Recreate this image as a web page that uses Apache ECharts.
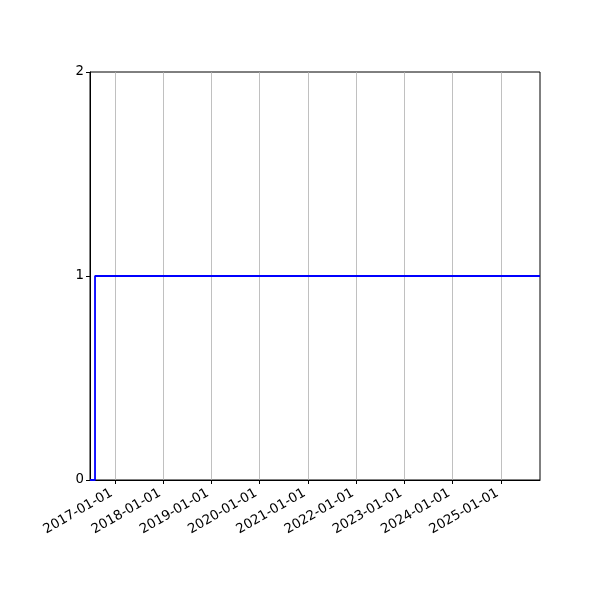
<!DOCTYPE html>
<html>
<head>
<meta charset="utf-8">
<script src="https://cdn.jsdelivr.net/npm/echarts@6/dist/echarts.min.js"></script>
<style>html,body{margin:0;padding:0;background:#fff}#c{width:600px;height:600px}</style>
</head>
<body>
<div id="c"></div>
<script>
const dates = ['2016-06-26', '2016-08-03', '2025-10-23'];
const values = [0, 1, 1];
const tickDates = ['2017-01-01','2018-01-01','2019-01-01','2020-01-01','2021-01-01','2022-01-01','2023-01-01','2024-01-01','2025-01-01'];
const yTicks = [0, 1, 2];

const ts = s => Date.parse(s + 'T00:00:00Z');
const tickTs = tickDates.map(ts);
const pad = n => String(n).padStart(2, '0');
const fmt = v => { const d = new Date(v); return d.getUTCFullYear() + '-' + pad(d.getUTCMonth()+1) + '-' + pad(d.getUTCDate()); };

const chart = echarts.init(document.getElementById('c'), null, {renderer: 'canvas'});
chart.setOption({
  animation: false,
  textStyle: {fontFamily: 'DejaVu Sans'},
  grid: {left: 90, right: 60, top: 72, bottom: 120, show: true, borderColor: '#000', borderWidth: 1, backgroundColor: 'transparent'},
  xAxis: {
    type: 'value',
    min: ts(dates[0]),
    max: ts(dates[dates.length-1]),
    axisLine: {show: true, onZero: false, lineStyle: {color: '#000', width: 1}},
    axisTick: {show: true, length: 4, inside: false, customValues: tickTs, lineStyle: {color: '#000'}},
    axisLabel: {customValues: tickTs, rotate: 30, fontSize: 13.3, color: '#000', margin: 10, padding: [0, 4, 0, 0], formatter: v => fmt(v), fontFamily: 'DejaVu Sans', showMinLabel: true, showMaxLabel: true},
    splitLine: {show: false},
    minorTick: {show: false}
  },
  yAxis: {
    type: 'value',
    min: 0, max: 2, interval: 1,
    axisLine: {show: true, lineStyle: {color: '#000', width: 1}},
    axisTick: {show: true, length: 4, lineStyle: {color: '#000'}},
    axisLabel: {fontSize: 13.3, color: '#000', margin: 6, fontFamily: 'DejaVu Sans', formatter: v => yTicks.includes(v) ? String(v) : ''},
    splitLine: {show: false}
  },
  series: [{
    type: 'line',
    step: 'end',
    data: dates.map((d, i) => [ts(d), values[i]]),
    showSymbol: false,
    symbol: 'none',
    clip: true,
    lineStyle: {color: '#0000ff', width: 1.8},
    markLine: {
      silent: true,
      symbol: 'none',
      label: {show: false},
      lineStyle: {color: '#b0b0b0', width: 0.8, type: 'solid'},
      data: tickTs.map(t => ({xAxis: t})),
      z: 1
    },
    z: 3
  }]
});
</script>
</body>
</html>
